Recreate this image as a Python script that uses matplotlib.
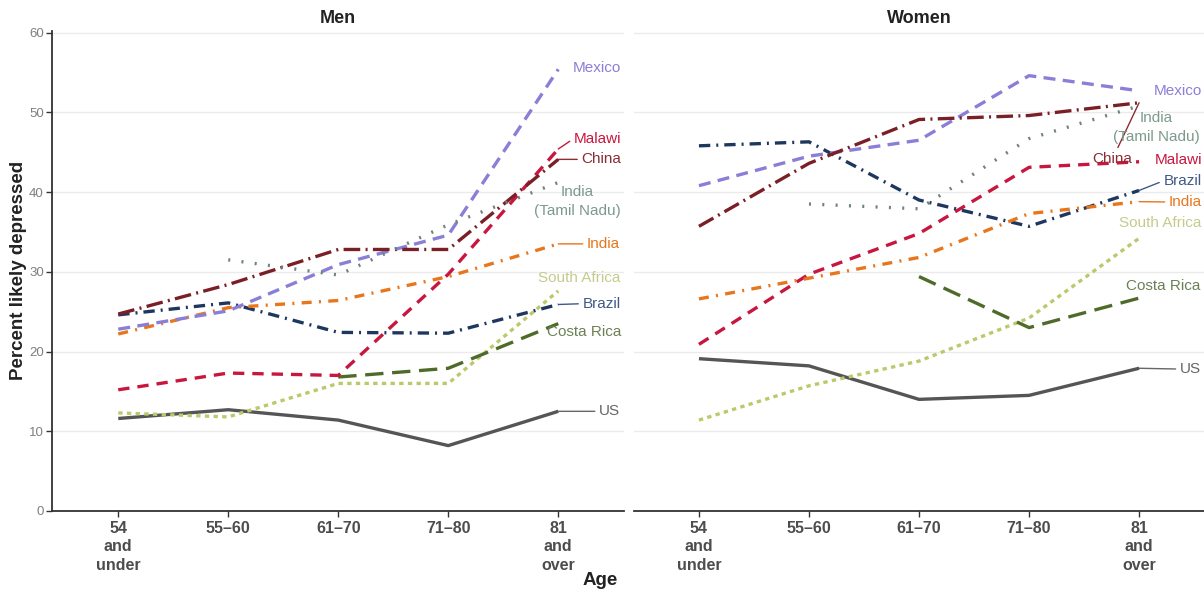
import numpy as np
import matplotlib
matplotlib.use("Agg")
import matplotlib.pyplot as plt

plt.rcParams['font.family'] = ['Liberation Sans', 'DejaVu Sans']

ages = ["54\nand\nunder", "55\u201360", "61\u201370", "71\u201380", "81\nand\nover"]
nan = np.nan

# Men
men_us = [11.6, 12.7, 11.4, 8.2, 12.5]
men_south_africa = [12.3, 11.8, 16.0, 16.0, 27.6]
men_costa_rica = [nan, nan, 16.8, 17.9, 23.5]
men_malawi = [15.2, 17.3, 17.0, 29.7, 45.4]
men_brazil = [24.6, 26.1, 22.4, 22.3, 25.9]
men_india = [22.2, 25.5, 26.4, 29.4, 33.5]
men_mexico = [22.8, 25.1, 30.9, 34.6, 55.4]
men_china = [24.7, 28.4, 32.8, 32.8, 44.1]
men_india_tn = [nan, 31.5, 29.6, 35.9, 41.2]

# Women
women_us = [19.1, 18.2, 14.0, 14.5, 17.9]
women_south_africa = [11.4, 15.7, 18.8, 24.2, 34.2]
women_costa_rica = [nan, nan, 29.4, 23.0, 26.7]
women_malawi = [20.9, 29.7, 34.8, 43.1, 43.8]
women_brazil = [45.8, 46.3, 39.0, 35.7, 40.2]
women_india = [26.6, 29.2, 31.8, 37.3, 38.8]
women_mexico = [40.8, 44.5, 46.5, 54.6, 52.7]
women_china = [35.7, 43.6, 49.1, 49.6, 51.2]
women_india_tn = [nan, 38.5, 37.9, 46.7, 50.8]

# country: (line colour, label colour, dash pattern)
styles = {
    "US": ("#555555", "#666666", None),
    "South Africa": ("#bcc96b", "#c6cb8c", (1.3, 1.3)),
    "Costa Rica": ("#4e6b2a", "#6b8055", (5.5, 2.6)),
    "Malawi": ("#c8173f", "#c8173f", (3.4, 2.4)),
    "Brazil": ("#1e375f", "#3f5a88", (3.4, 1.8, 0.6, 1.8)),
    "India": ("#e8761c", "#e8761c", (3.0, 2.2, 0.6, 2.2)),
    "Mexico": ("#8a7fd6", "#8a7fd6", (3.6, 2.2)),
    "China": ("#7b1f26", "#8a2d35", (5.0, 1.6, 0.6, 1.6)),
    "India (Tamil Nadu)": ("#6f8378", "#7c9a8c", (0.6, 3.4)),
}

men = {
    "US": men_us, "South Africa": men_south_africa, "Costa Rica": men_costa_rica,
    "Malawi": men_malawi, "Brazil": men_brazil, "India": men_india,
    "Mexico": men_mexico, "China": men_china, "India (Tamil Nadu)": men_india_tn,
}
women = {
    "US": women_us, "South Africa": women_south_africa, "Costa Rica": women_costa_rica,
    "Malawi": women_malawi, "Brazil": women_brazil, "India": women_india,
    "Mexico": women_mexico, "China": women_china, "India (Tamil Nadu)": women_india_tn,
}

# label placement: (x, y, ha, leader line?)
men_labels = {
    "Mexico": (4.13, 55.5, "left", False),
    "Malawi": (4.14, 46.7, "left", True),
    "China": (4.21, 44.1, "left", True),
    "India (Tamil Nadu)": (4.17, 38.8, "center", False),
    "India": (4.26, 33.5, "left", True),
    "South Africa": (4.19, 29.25, "center", False),
    "Brazil": (4.22, 26.0, "left", True),
    "Costa Rica": (3.9, 22.5, "left", False),
    "US": (4.37, 12.5, "left", True),
}
women_labels = {
    "Mexico": (4.13, 52.7, "left", False),
    "India (Tamil Nadu)": (4.16, 48.1, "center", False),
    "China": (3.76, 44.2, "center", True),
    "Malawi": (4.14, 44.0, "left", False),
    "Brazil": (4.22, 41.4, "left", True),
    "India": (4.27, 38.75, "left", True),
    "South Africa": (4.19, 36.1, "center", False),
    "Costa Rica": (4.22, 28.25, "center", False),
    "US": (4.37, 17.8, "left", True),
}

x = np.arange(len(ages))

fig = plt.figure(figsize=(12.04, 5.95), dpi=100)
ax_m = fig.add_axes([0.0434, 0.1412, 0.4751, 0.8067])
ax_w = fig.add_axes([0.5266, 0.1412, 0.4734, 0.8067])


def draw_panel(ax, data, labels, title, xlim):
    for name, vals in data.items():
        color, lcolor, dash = styles[name]
        line, = ax.plot(x, vals, color=color, lw=2.4, solid_capstyle="butt")
        if dash is not None:
            line.set_dashes(dash)
            line.set_dash_capstyle("butt")
        lx, ly, ha, leader = labels[name]
        last = np.array(vals)[-1]
        text = "India\n(Tamil Nadu)" if name == "India (Tamil Nadu)" else name
        if leader:
            ax.annotate(text, xy=(x[-1], last), xytext=(lx, ly), ha=ha, va="center",
                        color=lcolor, fontsize=11, annotation_clip=False,
                        arrowprops=dict(arrowstyle="-", color=lcolor, lw=1,
                                        shrinkA=1, shrinkB=0,
                                        relpos=(0, 0.5) if ha == "left" else (0.5, 0.5)))
        else:
            ax.text(lx, ly, text, ha=ha, va="center", color=lcolor, fontsize=11,
                    linespacing=1.45, clip_on=False)
    ax.set_xlim(*xlim)
    ax.set_ylim(0, 60.2)
    ax.set_yticks(range(0, 61, 10))
    ax.set_xticks(x)
    ax.set_xticklabels(ages, fontweight="bold", color="#4d4d4d", fontsize=11.5,
                       linespacing=1.3)
    ax.yaxis.grid(True, color="#ebebeb", lw=1)
    ax.set_axisbelow(True)
    for s in ["top", "right"]:
        ax.spines[s].set_visible(False)
    ax.spines["bottom"].set_color("#333333")
    ax.spines["bottom"].set_linewidth(1.3)
    ax.spines["left"].set_color("#333333")
    ax.spines["left"].set_linewidth(1.3)
    ax.tick_params(axis="x", length=4, width=1, color="#333333", pad=3)
    ax.tick_params(axis="y", length=4, width=1, color="#333333", labelcolor="#7f7f7f",
                   labelsize=9.5, pad=2)
    ax.set_title(title, fontweight="bold", fontsize=13, color="#222222", pad=6)


draw_panel(ax_m, men, men_labels, "Men", (-0.6, 4.6))
draw_panel(ax_w, women, women_labels, "Women", (-0.59, 4.59))

ax_w.spines["left"].set_visible(False)
ax_w.tick_params(axis="y", left=False, labelleft=False)

fig.text(0.015, 0.546, "Percent likely depressed", rotation=90, ha="center", va="center",
         fontweight="bold", fontsize=13.5, color="#222222")
fig.text(0.4983, 0.025, "Age", ha="center", va="center", fontweight="bold", fontsize=13.5,
         color="#222222")

fig.savefig("out.png", dpi=100)
